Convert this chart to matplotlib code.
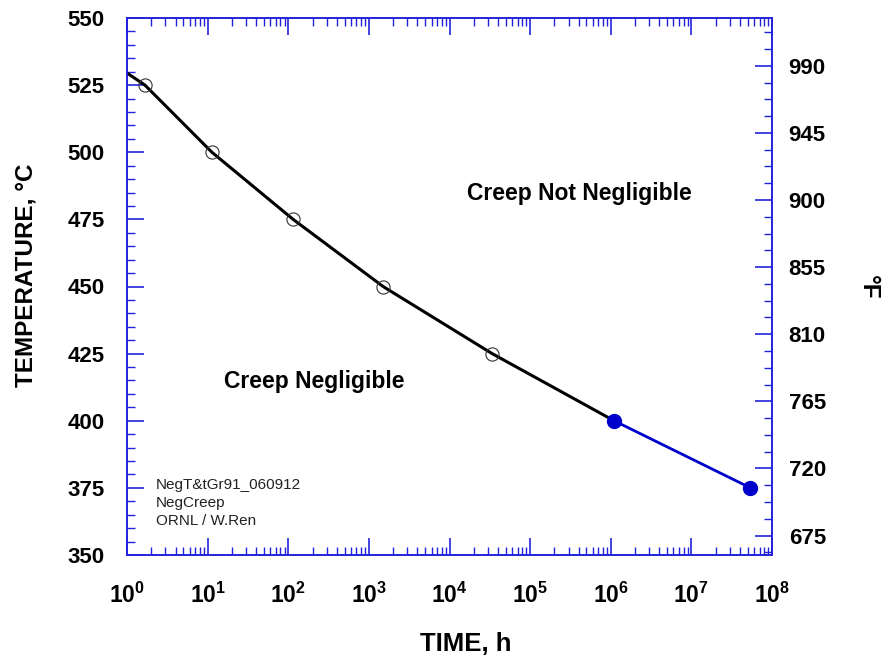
import matplotlib
matplotlib.use("Agg")
import matplotlib.pyplot as plt
import numpy as np
from matplotlib.ticker import MultipleLocator, LogLocator, NullFormatter

plt.rcParams["font.family"] = ["Liberation Sans", "DejaVu Sans"]

# data
curve_time = [1.0, 1.67, 11.3, 115, 1500, 33800, 1.1e6]
curve_temp = [529.5, 525, 500, 475, 450, 425, 400]
open_time = [1.67, 11.3, 115, 1500, 33800]
open_temp = [525, 500, 475, 450, 425]
ext_time = [1.1e6, 5.4e7]
ext_temp = [400, 375]
f_ticks = [675, 720, 765, 810, 855, 900, 945, 990]

BLUE = "#0000CC"
AXBLUE = "#2222DD"

fig = plt.figure(figsize=(8.83, 6.6), dpi=100)
ax = fig.add_axes([127 / 883, 1 - 555 / 660, (772 - 127) / 883, (555 - 18) / 660])

ax.plot(curve_time, curve_temp, color="black", linewidth=2.2, zorder=3)
ax.plot(open_time, open_temp, linestyle="none", marker="o", markersize=9.5,
        markerfacecolor="none", markeredgecolor="#333333", markeredgewidth=0.8, zorder=4)
ax.plot(ext_time, ext_temp, color=BLUE, linewidth=2, marker="o", markersize=10, zorder=4)

ax.set_xscale("log")
ax.set_xlim(1, 1e8)
ax.set_ylim(350, 550)
ax.xaxis.set_major_locator(LogLocator(base=10, numticks=20))
ax.xaxis.set_minor_locator(LogLocator(base=10, subs=np.arange(2, 10), numticks=20))
ax.xaxis.set_minor_formatter(NullFormatter())
ax.yaxis.set_major_locator(MultipleLocator(25))
ax.yaxis.set_minor_locator(MultipleLocator(5))

for s in ax.spines.values():
    s.set_color(AXBLUE)
    s.set_linewidth(1.2)

ax.tick_params(axis="x", which="both", direction="in", top=True, bottom=True,
               color=AXBLUE, labelsize=16.5, pad=20)
ax.tick_params(axis="y", which="both", direction="in", left=True, right=False,
               color=AXBLUE, labelsize=16, pad=16)
ax.tick_params(which="major", length=12, width=1.2)
ax.tick_params(which="minor", length=6, width=1.0)
for lbl in ax.get_xticklabels() + ax.get_yticklabels():
    lbl.set_fontweight("bold")

ax2 = ax.twinx()
ax2.set_ylim(350 * 9 / 5 + 32, 550 * 9 / 5 + 32)
ax2.set_yticks(f_ticks)
ax2.yaxis.set_minor_locator(MultipleLocator(11.25))
ax2.tick_params(axis="y", which="both", direction="in", color=AXBLUE, labelsize=16, pad=12)
ax2.tick_params(which="major", length=12, width=1.2)
ax2.tick_params(which="minor", length=6, width=1.0)
for lbl in ax2.get_yticklabels():
    lbl.set_fontweight("bold")
for s in ax2.spines.values():
    s.set_color(AXBLUE)
    s.set_linewidth(1.2)

# axis titles placed where the reference has them
fig.text(26 / 883, 1 - 275 / 660, "TEMPERATURE, °C", rotation=90, fontsize=17.5,
         fontweight="bold", ha="center", va="center")
fig.text(466 / 883, 1 - 644 / 660, "TIME, h", fontsize=18.5, fontweight="bold",
         ha="center", va="center")
fig.text(868 / 883, 1 - 287 / 660, "°F", rotation=270, fontsize=17.5, fontweight="bold",
         ha="center", va="center")

ax.text(0.702, 0.674, "Creep Not Negligible", transform=ax.transAxes,
        fontsize=16.5, fontweight="bold", ha="center", va="center")
ax.text(0.291, 0.324, "Creep Negligible", transform=ax.transAxes,
        fontsize=16.5, fontweight="bold", ha="center", va="center")
ax.text(0.045, 0.097, "NegT&tGr91_060912\nNegCreep\nORNL / W.Ren", transform=ax.transAxes,
        fontsize=11, ha="left", va="center", linespacing=1.38, color="#222222")

fig.savefig("out.png", dpi=100)
